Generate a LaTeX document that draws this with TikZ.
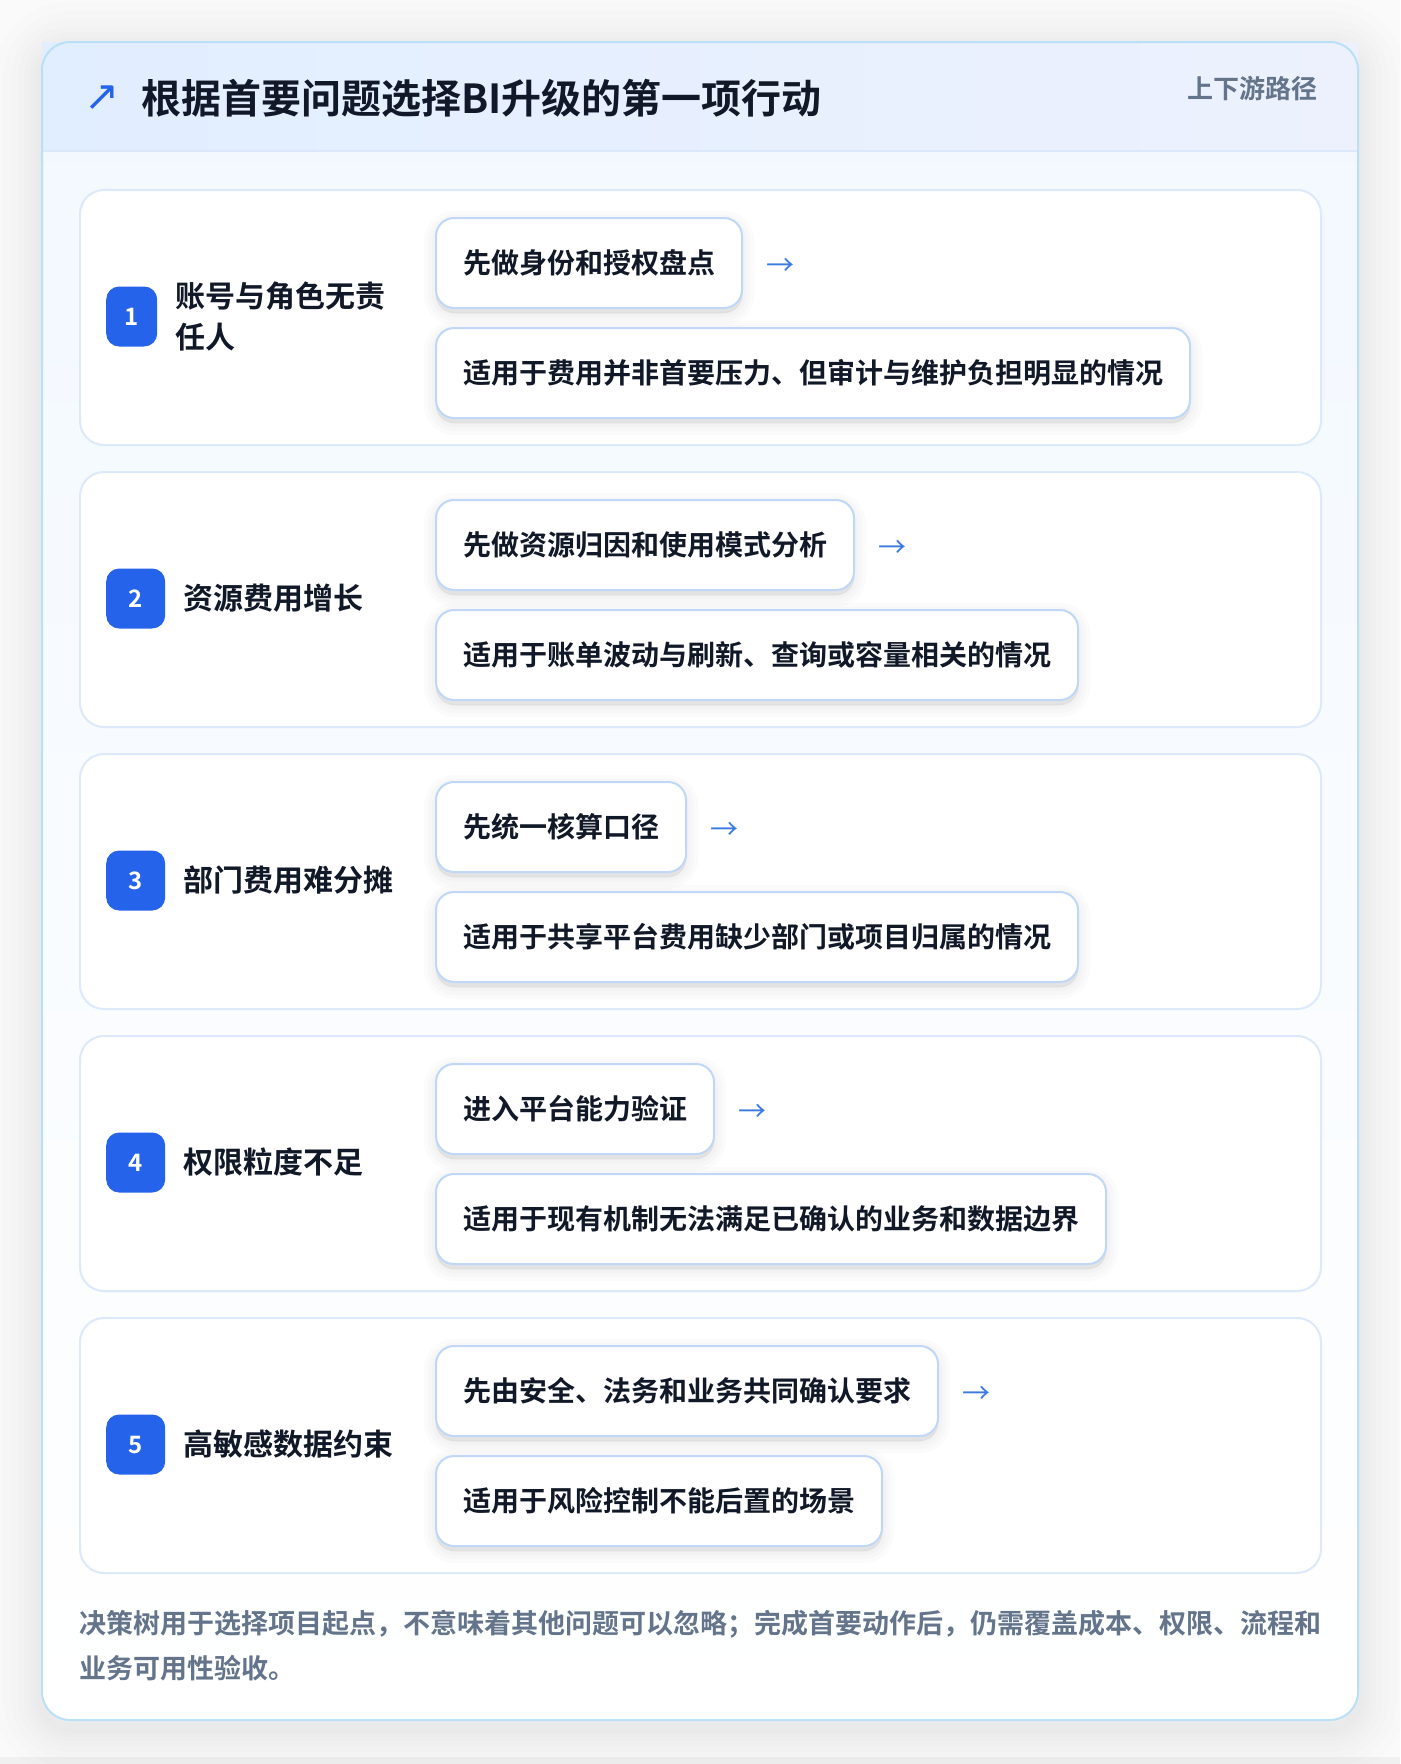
\documentclass[tikz,border=0pt]{standalone}
\usepackage{fontspec}
\setmainfont{Noto Sans CJK SC}[BoldFont=* Bold]
\newfontfamily\symfont{DejaVu Sans}

\definecolor{pagebg}{HTML}{FAFAFB}
\definecolor{outline}{HTML}{BAE0F8}
\definecolor{hdleft}{HTML}{E1EEFF}
\definecolor{hdright}{HTML}{EDF1FE}
\definecolor{hdline}{HTML}{DBE8FB}
\definecolor{bodytop}{HTML}{F2F8FF}
\definecolor{cardline}{HTML}{DCE9FB}
\definecolor{boxline}{HTML}{C0D7F7}
\definecolor{badgeblue}{HTML}{2563EB}
\definecolor{arrowblue}{HTML}{3B7AE0}
\definecolor{ink}{HTML}{111827}
\definecolor{muted}{HTML}{64748B}

\tikzset{
  haze/.style 2 args={preaction={draw=black, fill=black, draw opacity=#2, fill opacity=#2,
    line width=#1, transform canvas={yshift=-5pt}}},
  boxshadow/.style={haze={24pt}{0.014}, haze={16pt}{0.014}, haze={8pt}{0.016}, haze={2pt}{0.016}},
  bigshadow/.style={preaction={draw=black, draw opacity=0.009,
    line width=#1, transform canvas={yshift=-8pt}}},
  card/.style={draw=cardline, line width=2pt, fill=white, rounded corners=24pt,
    minimum width=1241pt, minimum height=255pt, anchor=north west, inner sep=0pt},
  badge/.style={fill=badgeblue, rounded corners=13pt, minimum height=60pt,
    inner sep=0pt, anchor=west, text=white, font=\bfseries\fontsize{24}{28}\selectfont},
  lab/.style={anchor=west, align=left, inner sep=0pt, text=ink,
    font=\bfseries\fontsize{30}{41}\selectfont},
  actbox/.style={draw=boxline, line width=2pt, fill=white, rounded corners=18pt,
    minimum height=90pt, inner xsep=27pt, inner ysep=0pt, anchor=north west,
    text=ink, font=\bfseries\fontsize{28}{34}\selectfont, boxshadow},
  nextarrow/.style={anchor=west, inner sep=0pt, text=arrowblue, font=\fontsize{28}{34}\selectfont}
}

\begin{document}
\begin{tikzpicture}[x=1pt, y=-1pt]
\useasboundingbox (0,0) rectangle (1400,1764);
\fill[pagebg] (0,0) rectangle (1400,1764);
\fill[black!6] (0,1757) rectangle (1400,1764);

% outer card
\fill[top color=bodytop, bottom color=white, rounded corners=28pt,
  bigshadow=96pt, bigshadow=78pt, bigshadow=62pt, bigshadow=48pt, bigshadow=36pt,
  bigshadow=26pt, bigshadow=18pt, bigshadow=10pt]
  (42,42) rectangle (1358,1720);
\fill[left color=hdleft, right color=hdright] (42,42) rectangle (1358,151);
\draw[hdline, line width=2pt] (42,151) -- (1358,151);
\draw[outline, line width=2pt, rounded corners=28pt] (42,42) rectangle (1358,1720);

\node[anchor=center, inner sep=0pt, text=badgeblue, font=\symfont\fontsize{42}{46}\selectfont] (icon) at (102,98) {↗};
\node[anchor=west, inner sep=0pt, text=ink, font=\bfseries\fontsize{40}{48}\selectfont] (title) at (141,98) {根据首要问题选择BI升级的第一项行动};
\node[anchor=east, inner sep=0pt, text=muted, font=\bfseries\fontsize{26}{30}\selectfont] (tag) at (1318,89) {上下游路径};

% one card per problem
\foreach \n/\bw/\lab/\act/\desc [count=\i from 0] in {
  1/51/{账号与角色无责\\任人}/先做身份和授权盘点/适用于费用并非首要压力、但审计与维护负担明显的情况,
  2/59/资源费用增长/先做资源归因和使用模式分析/适用于账单波动与刷新、查询或容量相关的情况,
  3/59/部门费用难分摊/先统一核算口径/适用于共享平台费用缺少部门或项目归属的情况,
  4/59/权限粒度不足/进入平台能力验证/适用于现有机制无法满足已确认的业务和数据边界,
  5/59/高敏感数据约束/先由安全、法务和业务共同确认要求/适用于风险控制不能后置的场景}
{
  \pgfmathsetmacro\cy{189+282*\i}
  \node[card] (card\n) at (79,\cy) {};
  \node[badge, minimum width=\bw pt] (badge\n) at (106,\cy+127.5) {\n};
  \node[lab] (label\n) at ([xshift=18pt]badge\n.east) {\lab};
  \node[actbox] (act\n) at (435,\cy+28) {\act};
  \node[nextarrow] (arr\n) at ([xshift=23pt, yshift=-4pt]act\n.east) {→};
  \node[actbox] (desc\n) at (435,\cy+138) {\desc};
}

\node[anchor=west, align=left, inner sep=0pt, text=muted, font=\bfseries\fontsize{27}{45}\selectfont] (note) at (79,1646)
  {决策树用于选择项目起点，不意味着其他问题可以忽略；完成首要动作后，仍需覆盖成本、权限、流程和\\业务可用性验收。};
\end{tikzpicture}
\end{document}
